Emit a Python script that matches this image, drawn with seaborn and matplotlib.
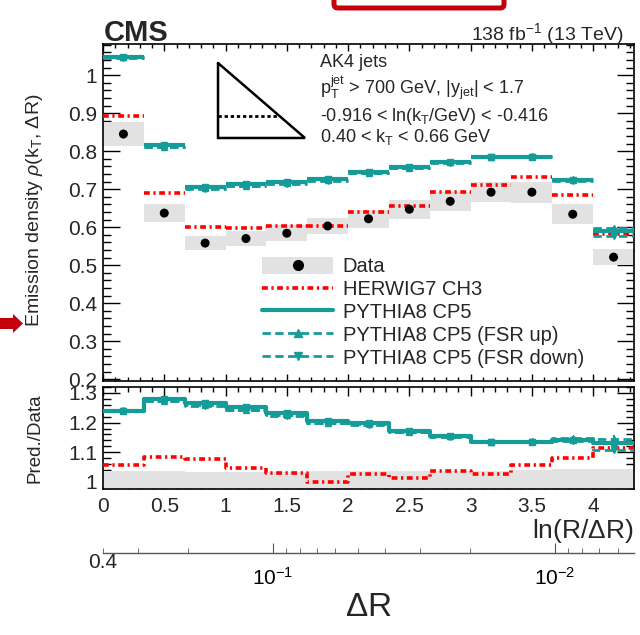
import numpy as np
import pandas as pd
import matplotlib
matplotlib.use("Agg")
import matplotlib.pyplot as plt
import seaborn as sns
from matplotlib.lines import Line2D
from matplotlib.patches import Patch, Polygon, FancyBboxPatch
from matplotlib.ticker import MultipleLocator, NullFormatter, LogLocator

# bins in ln(R/dR), width 1/3
bin_edges = [0, 1/3, 2/3, 1, 4/3, 5/3, 2, 7/3, 8/3, 3, 10/3, 11/3, 4, 13/3]

# emission density per bin
data = [0.845, 0.637, 0.558, 0.570, 0.584, 0.603, 0.622, 0.647, 0.668, 0.692, 0.692, 0.634, 0.521]
data_rel_unc = [0.038, 0.038, 0.033, 0.033, 0.035, 0.036, 0.038, 0.038, 0.038, 0.038, 0.040, 0.042, 0.042]
herwig = [0.893, 0.690, 0.601, 0.597, 0.602, 0.603, 0.639, 0.655, 0.693, 0.711, 0.731, 0.685, 0.581]
pythia = [1.048, 0.815, 0.706, 0.713, 0.719, 0.727, 0.746, 0.758, 0.772, 0.785, 0.785, 0.723, 0.589]
fsr_up = [1.049, 0.811, 0.702, 0.709, 0.715, 0.723, 0.743, 0.756, 0.771, 0.785, 0.787, 0.727, 0.597]
fsr_down = [1.046, 0.810, 0.701, 0.708, 0.714, 0.722, 0.742, 0.755, 0.769, 0.784, 0.784, 0.721, 0.577]
mc_unc = [0.004, 0.004, 0.004, 0.004, 0.004, 0.004, 0.004, 0.004, 0.004, 0.004, 0.004, 0.005, 0.006]

labels = ["Data", "HERWIG7 CH3", "PYTHIA8 CP5", "PYTHIA8 CP5 (FSR up)", "PYTHIA8 CP5 (FSR down)"]

sns.set_style("ticks")
plt.rcParams["font.family"] = ["Liberation Sans", "DejaVu Sans"]
plt.rcParams["mathtext.fontset"] = "custom"
plt.rcParams["mathtext.rm"] = "Liberation Sans"
plt.rcParams["mathtext.it"] = "Liberation Sans:italic"
plt.rcParams["mathtext.bf"] = "Liberation Sans:bold"

TEAL = "#169c98"
RED = "#ff0000"
GRAY = "#e2e2e2"
RED_LS = (0, (1.6, 1.0, 0.6, 1.0))
DASH_LS = (0, (3.0, 1.6))

edges = np.array(bin_edges)
lo, hi = edges[:-1], edges[1:]
df = pd.DataFrame({
    "x": (lo + hi) / 2, "w": hi - lo,
    "data": data, "rel": data_rel_unc,
    "herwig": herwig, "pythia": pythia, "fsr_up": fsr_up, "fsr_down": fsr_down,
    "unc": mc_unc,
})
df["err"] = df["data"] * df["rel"]
for c in ["herwig", "pythia", "fsr_up", "fsr_down"]:
    df["r_" + c] = df[c] / df["data"]
df["r_unc"] = df["unc"] / df["data"]

fig = plt.figure(figsize=(6.4, 6.35), dpi=100)
W, H = 640, 635
L, R = 103 / W, 634 / W
ax = fig.add_axes([L, 1 - 381 / H, R - L, (381 - 44) / H])
axr = fig.add_axes([L, 1 - 489 / H, R - L, (489 - 387) / H])
axb = fig.add_axes([L, 1 - 553 / H, R - L, 0.0001])

# ---- main panel
ax.bar(df["x"], 2 * df["err"], bottom=df["data"] - df["err"], width=df["w"],
       color=GRAY, linewidth=0, zorder=1)
ax.hlines(df["herwig"], lo, hi, colors=RED, linestyles=[RED_LS], linewidth=2.6, zorder=3)
for col, mk in [("fsr_up", "^"), ("fsr_down", "v")]:
    ax.hlines(df[col], lo, hi, colors=TEAL, linestyles=[DASH_LS], linewidth=2.0, zorder=3)
    ax.errorbar(df["x"], df[col], yerr=df["unc"], fmt=mk, color=TEAL, ms=5,
                elinewidth=1.5, capsize=0, zorder=4)
ax.hlines(df["pythia"], lo, hi, colors=TEAL, linewidth=3.0, zorder=4)
ax.errorbar(df["x"], df["pythia"], yerr=df["unc"], fmt="s", color=TEAL, ms=4.5,
            elinewidth=1.5, capsize=0, zorder=4)
sns.scatterplot(data=df, x="x", y="data", color="black", s=42, edgecolor="none",
                zorder=6, ax=ax, legend=False)

ax.set_xlim(0, 13 / 3)
ax.set_ylim(0.195, 1.082)
ax.set_xlabel("")
ax.set_ylabel("")
ax.xaxis.set_major_locator(MultipleLocator(0.5))
ax.xaxis.set_minor_locator(MultipleLocator(0.1))
ax.yaxis.set_minor_locator(MultipleLocator(0.02))
ax.set_yticks([0.2, 0.3, 0.4, 0.5, 0.6, 0.7, 0.8, 0.9, 1.0])
ax.set_yticklabels(["0.2", "0.3", "0.4", "0.5", "0.6", "0.7", "0.8", "0.9", "1"])
ax.tick_params(axis="x", which="both", labelbottom=False)

# triangle sketch (Lund plane region)
ax.plot([0.2166, 0.2166, 0.3804, 0.2166], [0.9436, 0.7211, 0.7211, 0.9436],
        transform=ax.transAxes, color="black", lw=1.8, solid_joinstyle="miter")
ax.plot([0.2166, 0.3315], [0.7864, 0.7864], transform=ax.transAxes,
        color="black", lw=2.0, linestyle=(0, (1.2, 1.0)))

tx = (320 - 103) / 531
ax.text(tx, 0.944, "AK4 jets", transform=ax.transAxes, fontsize=13, va="center")
ax.text(tx, 0.869, r"p$_\mathrm{T}^\mathrm{jet}$ > 700 GeV, |y$_\mathrm{jet}$| < 1.7",
        transform=ax.transAxes, fontsize=13, va="center")
ax.text(tx, 0.786, r"-0.916 < ln(k$_\mathrm{T}$/GeV) < -0.416",
        transform=ax.transAxes, fontsize=13, va="center")
ax.text(tx, 0.724, r"0.40 < k$_\mathrm{T}$ < 0.66 GeV",
        transform=ax.transAxes, fontsize=13, va="center")

handles = [
    (Patch(facecolor=GRAY, edgecolor="none"),
     Line2D([], [], marker="o", color="black", linestyle="none", markersize=7)),
    Line2D([], [], color=RED, linestyle=RED_LS, lw=2.6),
    Line2D([], [], color=TEAL, lw=3.0),
    Line2D([], [], color=TEAL, linestyle=DASH_LS, lw=2.0, marker="^", ms=6),
    Line2D([], [], color=TEAL, linestyle=DASH_LS, lw=2.0, marker="v", ms=6),
]
ax.legend(handles, labels, loc="upper left", bbox_to_anchor=(0.30, 0.368),
          frameon=False, fontsize=14.5, handlelength=3.5, handleheight=0.9,
          labelspacing=0.18, handletextpad=0.5, borderpad=0, borderaxespad=0,
          numpoints=1)

# ---- ratio panel
axr.bar(df["x"], 2 * df["rel"], bottom=1 - df["rel"], width=df["w"],
        color=GRAY, linewidth=0, zorder=1)

def step_frame(col):
    vals = df[col].to_numpy()
    return pd.DataFrame({"x": np.append(lo, hi[-1]), "y": np.append(vals, vals[-1])})

sns.lineplot(data=step_frame("r_herwig"), x="x", y="y", drawstyle="steps-post",
             estimator=None, sort=False, color=RED, linestyle=RED_LS, linewidth=2.6,
             ax=axr, zorder=3)
for col, mk in [("r_fsr_up", "^"), ("r_fsr_down", "v")]:
    sns.lineplot(data=step_frame(col), x="x", y="y", drawstyle="steps-post",
                 estimator=None, sort=False, color=TEAL, linestyle=DASH_LS,
                 linewidth=2.0, ax=axr, zorder=3)
    axr.errorbar(df["x"], df[col], yerr=df["r_unc"], fmt=mk, color=TEAL, ms=5,
                 elinewidth=1.5, capsize=0, zorder=4)
sns.lineplot(data=step_frame("r_pythia"), x="x", y="y", drawstyle="steps-post",
             estimator=None, sort=False, color=TEAL, linewidth=3.0, ax=axr, zorder=4)
axr.errorbar(df["x"], df["r_pythia"], yerr=df["r_unc"], fmt="s", color=TEAL,
             ms=4.5, elinewidth=1.5, capsize=0, zorder=4)

axr.set_xlim(0, 13 / 3)
axr.set_ylim(0.976, 1.32)
axr.set_xlabel("")
axr.set_ylabel("")
axr.xaxis.set_minor_locator(MultipleLocator(0.1))
axr.set_xticks([0, 0.5, 1, 1.5, 2, 2.5, 3, 3.5, 4])
axr.set_xticklabels(["0", "0.5", "1", "1.5", "2", "2.5", "3", "3.5", "4"])
axr.set_yticks([1.0, 1.1, 1.2, 1.3])
axr.set_yticklabels(["1", "1.1", "1.2", "1.3"])
axr.yaxis.set_minor_locator(MultipleLocator(0.02))

for a, xmaj, xmin in [(ax, 5, 3), (axr, 6.5, 3.6)]:
    a.tick_params(which="both", direction="in", top=True, right=True,
                  labelsize=15, width=1.0, color="black", pad=4)
    a.tick_params(axis="x", which="major", length=xmaj, pad=6)
    a.tick_params(axis="x", which="minor", length=xmin)
    a.tick_params(axis="y", which="major", length=12)
    a.tick_params(axis="y", which="minor", length=6)
    for s in a.spines.values():
        s.set_linewidth(1.2)
        s.set_color("black")

# ---- secondary Delta R axis
axb.set_xscale("log")
axb.set_xlim(0.4, 0.4 * np.exp(-13 / 3))
axb.set_yticks([])
for side in ["top", "left", "right"]:
    axb.spines[side].set_visible(False)
axb.spines["bottom"].set_color("#555555")
axb.spines["bottom"].set_linewidth(1.0)
axb.xaxis.set_major_locator(LogLocator(base=10))
axb.xaxis.set_minor_locator(LogLocator(base=10, subs=np.arange(2, 10)))
axb.xaxis.set_minor_formatter(NullFormatter())
axb.tick_params(axis="x", which="both", direction="in", colors="#555555",
                labelcolor="black", labelsize=15)
axb.tick_params(axis="x", which="major", length=7, pad=10)
axb.tick_params(axis="x", which="minor", length=3.5)
axb.patch.set_alpha(0)
axb.text(0.4, 0, "0.4", transform=axb.get_xaxis_transform(),
         fontsize=15, ha="center", va="top")

# ---- labels
fig.text(35 / W, 1 - 210 / H, r"Emission density $\rho$(k$_\mathrm{T}$, $\Delta$R)",
         rotation=90, ha="center", va="center", fontsize=14)
fig.text(35 / W, 1 - 438 / H, "Pred./Data", rotation=90, ha="center", va="center",
         fontsize=13.5)
fig.text(634 / W, 1 - 531 / H, r"ln(R/$\Delta$R)", ha="right", va="center", fontsize=19)
fig.text(368 / W, 1 - 608 / H, r"$\Delta$R", ha="center", va="center", fontsize=24)
fig.text(104 / W, 1 - 41 / H, "CMS", fontsize=21, fontweight="bold", va="baseline")
fig.text(624 / W, 1 - 40 / H, r"138 fb$^{-1}$ (13 TeV)", fontsize=14, ha="right",
         va="baseline")

# ---- red overlay marks
fig.patches.append(FancyBboxPatch((334 / W, 1 - 8 / H), (504 - 334) / W, 0.1,
                                  boxstyle="round,pad=0,rounding_size=0.006",
                                  transform=fig.transFigure, facecolor="none",
                                  edgecolor="#c4000a", linewidth=3.6, figure=fig))
arrow_px = [(0, 318), (13, 318), (13, 314), (23, 323.5), (13, 333), (13, 329), (0, 329)]
fig.patches.append(Polygon([(x / W, 1 - y / H) for x, y in arrow_px], closed=True,
                           transform=fig.transFigure, facecolor="#c4000a",
                           edgecolor="none", figure=fig))

fig.savefig("out.png", dpi=100)
